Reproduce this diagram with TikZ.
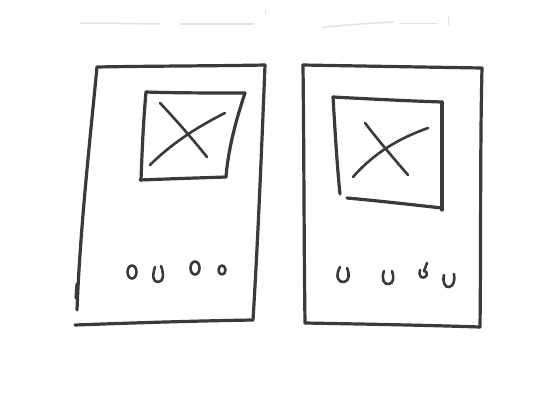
\documentclass[tikz,border=0pt]{standalone}
\usetikzlibrary{calc}
\definecolor{ink}{HTML}{3A3A3A}
\definecolor{faint}{HTML}{E2E2E2}
\tikzset{
  pen/.style={draw=ink,line width=3.2pt,line cap=round,line join=round},
  thinpen/.style={draw=ink,line width=2.6pt,line cap=round,line join=round},
  ghost/.style={draw=faint,line width=1.5pt,line cap=round}
}
\begin{document}
\begin{tikzpicture}[x=1pt,y=-1pt]
\useasboundingbox[fill=white] (0,0) rectangle (549,400);
% faint marks at top
\draw[ghost] (80,23) -- (160,24);
\draw[ghost] (180,24) -- (253,24);
\draw[ghost] (323,27) .. controls (360,24) .. (393,22);
\draw[ghost,line width=1pt] (400,23) -- (437,23);
\draw[ghost,line width=1pt] (265,10) -- (265,14);
\draw[ghost,line width=1pt] (448,17) -- (448,25);
% ---------- left card ----------
\draw[pen] (97,67) .. controls (150,66) and (210,66) .. (265,65);
\draw[pen] (265,65) .. controls (262,140) and (258,240) .. (253,320);
\draw[pen] (253,320) .. controls (190,321) and (130,323) .. (75,325);
\draw[pen] (97,67) .. controls (90,140) and (80,230) .. (77,310);
\draw[pen] (77,284) -- (76,298);
% inner image box
\draw[pen] (146,92) .. controls (175,93) and (215,93) .. (245,93);
\draw[pen] (245,93) .. controls (236,120) and (228,150) .. (226,177);
\draw[pen] (226,177) .. controls (195,178) and (165,179) .. (140,180);
\draw[pen] (146,92) .. controls (143,125) and (142,155) .. (141,180);
% X
\draw[thinpen] (160,103) .. controls (178,122) and (195,142) .. (207,157);
\draw[thinpen] (225,113) .. controls (195,128) and (170,145) .. (150,165);
% circles
\draw[thinpen] (132,272) ellipse (4.5 and 6.5);
\draw[thinpen] (155,267) .. controls (152,276) and (153,282) .. (158,282)
  .. controls (164,282) and (164,274) .. (161,266);
\draw[thinpen] (195,268) ellipse (4.5 and 6.5);
\draw[thinpen] (222,270) ellipse (3.5 and 4.5);
% ---------- right card ----------
\draw[pen] (303,65) .. controls (360,66) and (420,67) .. (482,68);
\draw[pen] (482,68) .. controls (480,150) and (481,250) .. (480,327);
\draw[pen] (480,327) .. controls (420,325) and (360,324) .. (305,323);
\draw[pen] (303,65) .. controls (304,150) and (304,250) .. (305,323);
% inner image box
\draw[pen] (333,97) .. controls (370,99) and (410,101) .. (442,102);
\draw[pen] (442,102) .. controls (442,140) and (442,180) .. (442,210);
\draw[pen] (347,198) .. controls (380,201) and (415,205) .. (442,208);
\draw[pen] (333,97) .. controls (335,130) and (337,165) .. (340,194);
% X
\draw[thinpen] (365,123) .. controls (378,140) and (395,160) .. (408,175);
\draw[thinpen] (428,128) .. controls (400,138) and (375,152) .. (353,177);
% U shapes
\draw[thinpen] (340,267) .. controls (335,276) and (338,283) .. (344,282)
  .. controls (349,281) and (350,275) .. (347,268);
\draw[thinpen] (384,271) .. controls (381,279) and (384,285) .. (389,284)
  .. controls (394,283) and (394,277) .. (392,271);
\draw[thinpen] (420,270) .. controls (418,276) and (422,279) .. (425,277)
  .. controls (428,275) and (427,271) .. (424,271);
\draw[thinpen] (427,263) -- (424,271);
\draw[thinpen] (444,275) .. controls (442,283) and (446,288) .. (449,287)
  .. controls (454,286) and (455,280) .. (454,274);
\end{tikzpicture}
\end{document}
